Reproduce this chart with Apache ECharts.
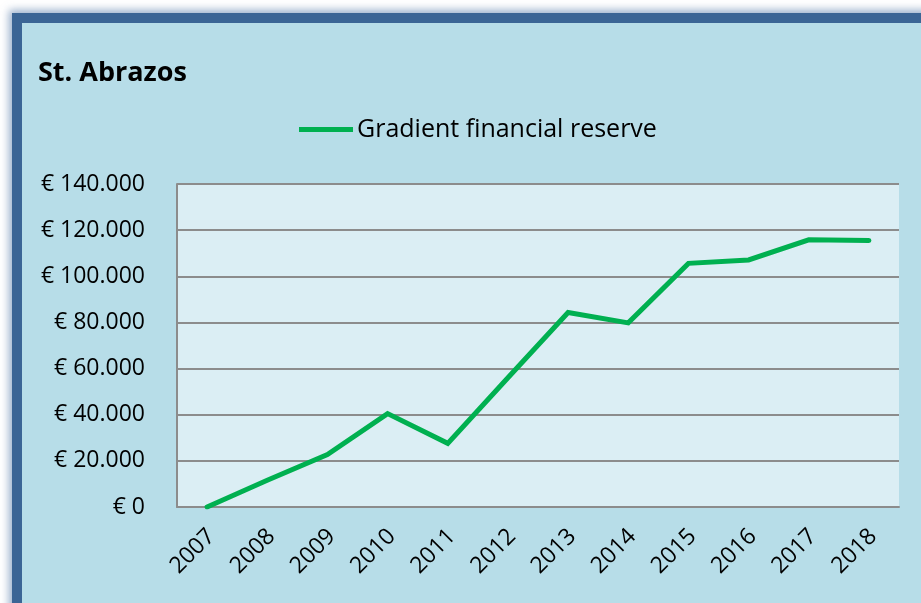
<!DOCTYPE html>
<html>
<head>
<meta charset="utf-8">
<style>
  html, body { margin: 0; padding: 0; width: 921px; height: 603px; overflow: hidden; background: #ffffff; }
  #frame {
    position: absolute; left: 12px; top: 13px; width: 1000px; height: 700px;
    background: #b7dde8;
    border-left: 10px solid #3b6595; border-top: 10px solid #3b6595;
    box-shadow: 0 0 8px 3px rgba(70,110,160,0.55);
  }
  #chart { position: absolute; left: 0; top: 0; width: 921px; height: 603px; }
</style>
<script src="https://cdn.jsdelivr.net/npm/echarts@6/dist/echarts.min.js"></script>
</head>
<body>
<div id="frame"></div>
<div id="chart"></div>
<script>
const categories = ['2007','2008','2009','2010','2011','2012','2013','2014','2015','2016','2017','2018'];
const reserveValues = [0, 11600, 22700, 40500, 27600, 56000, 84300, 79800, 105600, 107100, 115800, 115500];
const yTicks = [0, 20000, 40000, 60000, 80000, 100000, 120000, 140000];
const seriesName = 'Gradient financial reserve';
const titleText = 'St. Abrazos';

function euro(v) {
  if (v === 0) return '€ 0';
  const s = String(Math.round(v));
  return '€ ' + s.replace(/\B(?=(\d{3})+(?!\d))/g, '.');
}

const chart = echarts.init(document.getElementById('chart'), null, { renderer: 'canvas' });
const FONT = '"Open Sans", "Noto Sans", sans-serif';
chart.setOption({
  backgroundColor: 'transparent',
  animation: false,
  title: {
    text: titleText, left: 33, top: 55,
    textStyle: { fontFamily: FONT, fontWeight: 'bold', fontSize: 27, color: '#000' }
  },
  legend: {
    data: [{ name: seriesName, icon: 'path://M0,0 L54,0 L54,5 L0,5 Z' }],
    left: 294, top: 112,
    itemWidth: 54, itemHeight: 5, itemGap: 5,
    textStyle: { fontFamily: FONT, fontSize: 25, color: '#000', padding: [0, 0, 0, -1] }
  },
  grid: { left: 177, right: 22, top: 184, bottom: 96, containLabel: false,
    show: true, backgroundColor: '#dbeef4', borderWidth: 0 },
  xAxis: {
    type: 'category', data: categories, boundaryGap: true,
    axisLine: { show: true, lineStyle: { color: '#8c8c8c', width: 2 } },
    axisTick: { show: false },
    axisLabel: { rotate: 45, margin: 30, fontFamily: FONT, fontSize: 23, color: '#000', interval: 0,
      padding: [0, -6, 0, 0] }
  },
  yAxis: {
    type: 'value', min: yTicks[0], max: yTicks[yTicks.length - 1], interval: yTicks[1] - yTicks[0],
    axisLine: { show: true, lineStyle: { color: '#8c8c8c', width: 2 } },
    axisTick: { show: false },
    splitLine: { show: true, lineStyle: { color: '#8c8c8c', width: 2 } },
    axisLabel: { margin: 32, fontFamily: FONT, fontSize: 23, color: '#000', formatter: euro }
  },
  series: [{
    name: seriesName, type: 'line', data: reserveValues,
    symbol: 'none', smooth: false,
    lineStyle: { color: '#00b050', width: 5, cap: 'round', join: 'miter' },
    itemStyle: { color: '#00b050' }
  }]
});
</script>
</body>
</html>
